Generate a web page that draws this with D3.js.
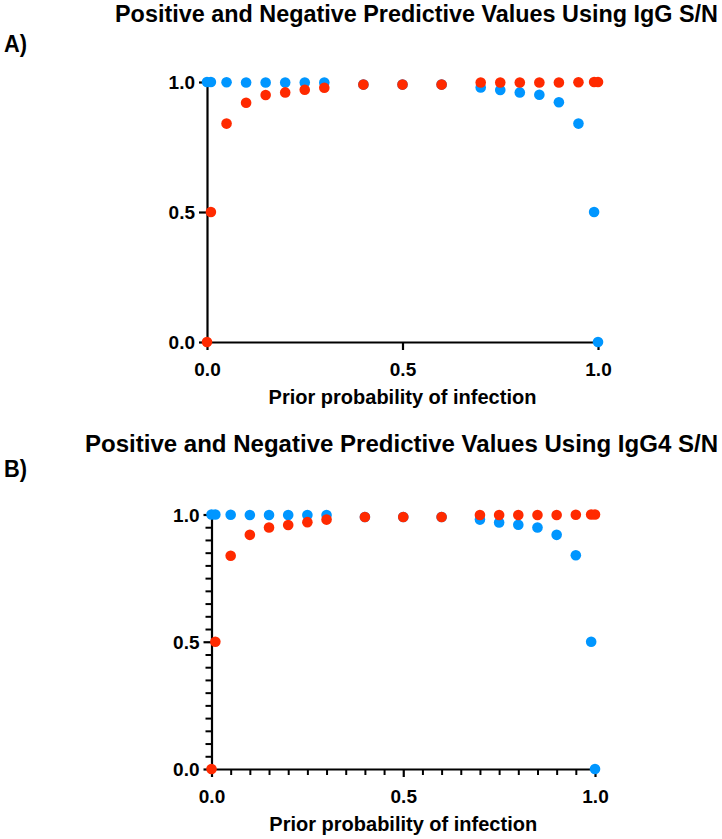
<!DOCTYPE html>
<html>
<head>
<meta charset="utf-8">
<script src="https://cdn.jsdelivr.net/npm/d3@7"></script>
<style>
  html, body { margin: 0; padding: 0; background: #fff; }
  svg text { font-family: "Liberation Sans", Arial, Helvetica, sans-serif; font-weight: bold; fill: #000; }
</style>
</head>
<body>
<svg id="chart" width="722" height="839"></svg>
<script>
// Prior probability of infection
const priors = [0, 0.01, 0.05, 0.1, 0.15, 0.2, 0.25, 0.3, 0.4, 0.5, 0.6, 0.7, 0.75, 0.8, 0.85, 0.9, 0.95, 0.99, 1.0];
// Panel A (IgG S/N)
const ppvA = [0, 0.5, 0.84, 0.92, 0.95, 0.96, 0.97, 0.978, 0.99, 0.99, 0.99, 0.998, 0.998, 0.998, 0.998, 0.998, 0.999, 1.0, 1.0];
const npvA = [1.0, 1.0, 0.999, 0.998, 0.998, 0.998, 0.998, 0.998, 0.99, 0.99, 0.99, 0.979, 0.969, 0.96, 0.951, 0.922, 0.84, 0.5, 0];
// Panel B (IgG4 S/N)
const ppvB = [0, 0.5, 0.838, 0.92, 0.949, 0.959, 0.97, 0.98, 0.99, 0.99, 0.99, 0.998, 0.998, 0.998, 0.998, 0.998, 0.999, 1.0, 1.0];
const npvB = [1.0, 1.0, 0.999, 0.998, 0.998, 0.998, 0.998, 0.998, 0.99, 0.99, 0.99, 0.98, 0.969, 0.96, 0.949, 0.92, 0.84, 0.5, 0];
const tickValues = [0, 0.5, 1.0];
const tickLabels = ["0.0", "0.5", "1.0"];
const xTitle = "Prior probability of infection";

const BLUE = "#0096ff";
const RED = "#ff2a00";

const svg = d3.select("#chart");

function panel(cfg) {
  const g = svg.append("g");
  const x = d3.scaleLinear().domain([0, 1]).range([cfg.x0, cfg.x1]);
  const y = d3.scaleLinear().domain([0, 1]).range([cfg.y0, cfg.y1]);

  // title (condensed look via textLength)
  g.append("text")
    .attr("x", cfg.titleX).attr("y", cfg.titleY)
    .attr("font-size", 23)
    .attr("textLength", cfg.titleW).attr("lengthAdjust", "spacingAndGlyphs")
    .text(cfg.title);
  g.append("text")
    .attr("x", 4).attr("y", cfg.letterY)
    .attr("font-size", 24)
    .attr("textLength", 23).attr("lengthAdjust", "spacingAndGlyphs")
    .text(cfg.letter);

  // minor ticks (panel B)
  if (cfg.minor) {
    const minorVals = d3.range(1, 20).map(i => i / 20).filter(v => Math.abs(v - 0.5) > 1e-9);
    const xMinor = d3.axisBottom(x).tickValues(minorVals).tickSize(6).tickFormat("");
    const yMinor = d3.axisLeft(y).tickValues(minorVals).tickSize(6).tickFormat("");
    const gx = g.append("g").attr("transform", `translate(0,${cfg.y0})`).call(xMinor);
    const gy = g.append("g").attr("transform", `translate(${cfg.x0},0)`).call(yMinor);
    [gx, gy].forEach(a => {
      a.select(".domain").remove();
      a.selectAll("line").attr("stroke", "#000").attr("stroke-width", 2);
    });
  }

  const xAxis = d3.axisBottom(x).tickValues(tickValues).tickSize(8).tickSizeOuter(0)
    .tickFormat((d, i) => tickLabels[i]);
  const yAxis = d3.axisLeft(y).tickValues(tickValues).tickSize(8).tickSizeOuter(0)
    .tickFormat((d, i) => tickLabels[i]);

  const gx = g.append("g").attr("transform", `translate(0,${cfg.y0})`).call(xAxis);
  const gy = g.append("g").attr("transform", `translate(${cfg.x0},0)`).call(yAxis);
  [gx, gy].forEach(a => {
    a.select(".domain").attr("stroke", "#000").attr("stroke-width", 2.2);
    a.selectAll(".tick line").attr("stroke", "#000").attr("stroke-width", 2.2);
    a.selectAll(".tick text").attr("font-size", 19)
      .style("font-family", "'Liberation Sans', Arial, sans-serif").style("font-weight", "bold").attr("fill", "#000");
  });
  gx.selectAll(".tick text").attr("dy", null).attr("y", 34);
  gy.selectAll(".tick text").attr("dy", "0.35em").attr("x", -12);

  g.append("text")
    .attr("x", (cfg.x0 + cfg.x1) / 2).attr("y", cfg.xTitleY)
    .attr("text-anchor", "middle").attr("font-size", 20).text(xTitle);

  // points: blue (NPV) first, red (PPV) on top
  g.append("g").selectAll("circle").data(priors.map((p, i) => [p, cfg.npv[i]])).join("circle")
    .attr("cx", d => x(d[0])).attr("cy", d => y(d[1])).attr("r", 5.3).attr("fill", BLUE);
  g.append("g").selectAll("circle").data(priors.map((p, i) => [p, cfg.ppv[i]])).join("circle")
    .attr("cx", d => x(d[0])).attr("cy", d => y(d[1])).attr("r", 5.3).attr("fill", RED);
}

panel({
  title: "Positive and Negative Predictive Values Using IgG S/N", letter: "A)",
  titleX: 115, titleY: 22, titleW: 603, letterY: 52,
  x0: 207, x1: 598, y0: 342, y1: 82, xTitleY: 404,
  ppv: ppvA, npv: npvA, minor: false
});
panel({
  title: "Positive and Negative Predictive Values Using IgG4 S/N", letter: "B)",
  titleX: 85, titleY: 452, titleW: 633, letterY: 477,
  x0: 211.5, x1: 595, y0: 769, y1: 514.5, xTitleY: 831,
  ppv: ppvB, npv: npvB, minor: true
});
</script>
</body>
</html>
